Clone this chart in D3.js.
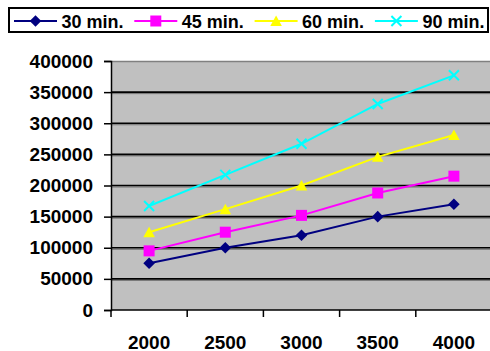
<!DOCTYPE html>
<html>
<head>
<meta charset="utf-8">
<script src="https://cdn.jsdelivr.net/npm/d3@7/dist/d3.min.js"></script>
<style>
  html, body { margin: 0; padding: 0; background: #fff; }
  svg { display: block; }
  text { font-family: "Liberation Sans", Arial, sans-serif; font-weight: bold; fill: #000; }
</style>
</head>
<body>
<svg id="chart" width="490" height="351"></svg>
<script>
// Categories (x axis) and one value list per series
const categories = ["2000", "2500", "3000", "3500", "4000"];
const seriesNames = ["30 min.", "45 min.", "60 min.", "90 min."];
const values30 = [75000, 100000, 120000, 150000, 170000];
const values45 = [95000, 125000, 152000, 188000, 215000];
const values60 = [125000, 162000, 200000, 246000, 281000];
const values90 = [167000, 217000, 267000, 331000, 377000];
const yTicks = [0, 50000, 100000, 150000, 200000, 250000, 300000, 350000, 400000];

const series = [
  { name: seriesNames[0], values: values30, color: "#000080", marker: "diamond" },
  { name: seriesNames[1], values: values45, color: "#FF00FF", marker: "square" },
  { name: seriesNames[2], values: values60, color: "#FFFF00", marker: "triangle" },
  { name: seriesNames[3], values: values90, color: "#00FFFF", marker: "cross" }
];

const svg = d3.select("#chart");
const plot = { left: 111, right: 492, top: 61, bottom: 310 };

const x = d3.scaleBand().domain(categories).range([plot.left, plot.right]).padding(0);
const y = d3.scaleLinear().domain([0, 400000]).range([plot.bottom, plot.top]);
const cx = d => x(d) + x.bandwidth() / 2;

// Plot area
svg.append("rect")
  .attr("x", plot.left).attr("y", plot.top)
  .attr("width", plot.right - plot.left).attr("height", plot.bottom - plot.top)
  .attr("fill", "#C0C0C0");
svg.append("line")
  .attr("x1", plot.left).attr("x2", plot.right)
  .attr("y1", plot.top + 0.5).attr("y2", plot.top + 0.5)
  .attr("stroke", "#808080").attr("stroke-width", 1.5);

// Gridlines
const grid = svg.append("g");
yTicks.filter(t => t > 0 && t < 400000).forEach(t => {
  grid.append("line")
    .attr("x1", plot.left).attr("x2", plot.right)
    .attr("y1", y(t) + 1.5).attr("y2", y(t) + 1.5)
    .attr("stroke", "#707070").attr("stroke-width", 1);
  grid.append("line")
    .attr("x1", plot.left).attr("x2", plot.right)
    .attr("y1", y(t)).attr("y2", y(t))
    .attr("stroke", "#000").attr("stroke-width", 1.6);
});

// Y axis
const yAxis = d3.axisLeft(y).tickValues(yTicks).tickSize(7).tickPadding(11).tickFormat(d3.format("d"));
const gy = svg.append("g").attr("transform", `translate(${plot.left},0)`).call(yAxis);
gy.attr("font-family", null).attr("font-size", null);
gy.select(".domain").attr("stroke", "#000").attr("stroke-width", 1.5);
gy.selectAll(".tick line").attr("stroke", "#000").attr("stroke-width", 1.5);
gy.selectAll(".tick text").style("font-size", "19px");

// X axis: ticks at category boundaries, labels centred in each band
const gx = svg.append("g");
gx.append("line")
  .attr("x1", plot.left).attr("x2", plot.right)
  .attr("y1", plot.bottom).attr("y2", plot.bottom)
  .attr("stroke", "#000").attr("stroke-width", 1.5);
categories.forEach(c => {
  gx.append("line")
    .attr("x1", x(c)).attr("x2", x(c))
    .attr("y1", plot.bottom).attr("y2", plot.bottom + 7)
    .attr("stroke", "#000").attr("stroke-width", 1.5);
  gx.append("text")
    .attr("x", cx(c)).attr("y", 348.5)
    .attr("text-anchor", "middle")
    .style("font-size", "19px")
    .text(c);
});

// Marker shapes
const markerPath = {
  diamond: "M0,-5.8L5.8,0L0,5.8L-5.8,0Z",
  square: "M-5.5,-5.5H5.5V5.5H-5.5Z",
  triangle: "M0,-5.5L5.8,5L-5.8,5Z",
  cross: "M-5,-5L5,5M-5,5L5,-5"
};
function drawMarker(g, s, px, py) {
  const path = g.append("path")
    .attr("d", markerPath[s.marker])
    .attr("transform", `translate(${px},${py})`);
  if (s.marker === "cross") {
    path.attr("fill", "none").attr("stroke", s.color).attr("stroke-width", 2);
  } else {
    path.attr("fill", s.color);
  }
}

// Series lines and markers
const line = d3.line().x((d, i) => cx(categories[i])).y(d => y(d));
series.forEach(s => {
  const g = svg.append("g");
  g.append("path")
    .attr("d", line(s.values))
    .attr("fill", "none")
    .attr("stroke", s.color)
    .attr("stroke-width", 2);
  s.values.forEach((v, i) => drawMarker(g, s, cx(categories[i]), y(v)));
});

// Legend
const legend = svg.append("g");
legend.append("rect")
  .attr("x", 9).attr("y", 8).attr("width", 479).attr("height", 24)
  .attr("fill", "#fff").attr("stroke", "#000").attr("stroke-width", 2);
series.forEach((s, i) => {
  const x0 = 14 + i * 120.3;
  const g = legend.append("g");
  g.append("line")
    .attr("x1", x0).attr("x2", x0 + 43)
    .attr("y1", 21).attr("y2", 21)
    .attr("stroke", s.color).attr("stroke-width", 2);
  drawMarker(g, s, x0 + 21.5, 21);
  g.append("text")
    .attr("x", x0 + 47.5).attr("y", 27.5)
    .style("font-size", "18px")
    .text(s.name);
});
</script>
</body>
</html>
